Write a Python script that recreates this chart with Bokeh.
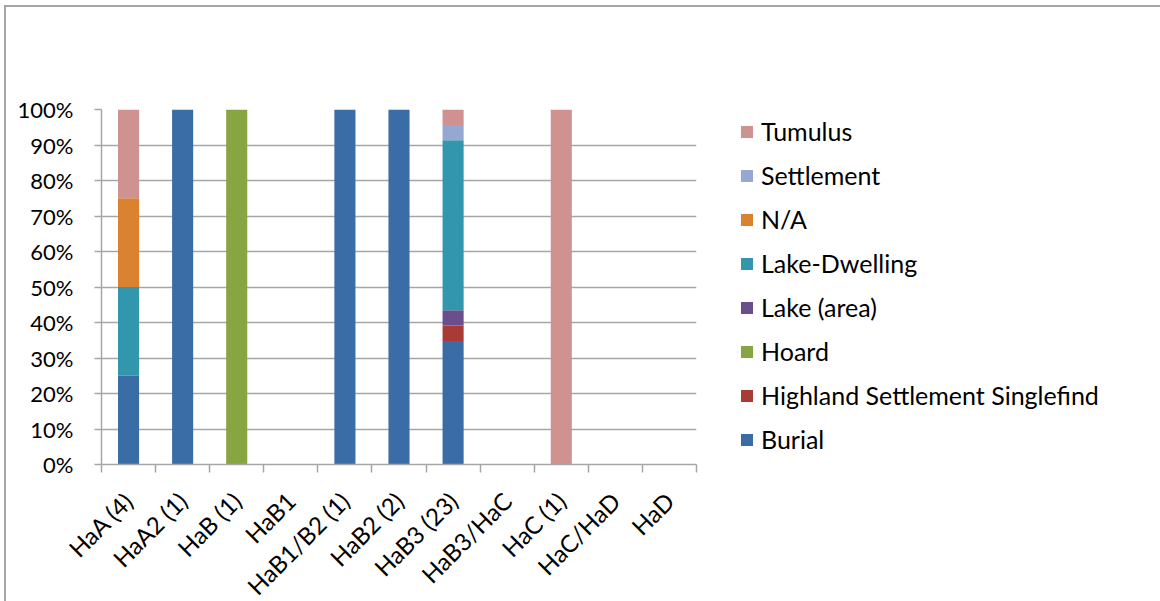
from bokeh.plotting import figure
from bokeh.models import Range1d, FixedTicker, NumeralTickFormatter, Legend, LegendItem, ColumnDataSource
from bokeh.embed import file_html
from bokeh.resources import INLINE
import math

categories = ["HaA (4)", "HaA2 (1)", "HaB (1)", "HaB1", "HaB1/B2 (1)", "HaB2 (2)",
              "HaB3 (23)", "HaB3/HaC", "HaC (1)", "HaC/HaD", "HaD"]
series_names = ["Burial", "Highland Settlement Singlefind", "Hoard", "Lake (area)",
                "Lake-Dwelling", "N/A", "Settlement", "Tumulus"]
burial =        [1, 1, 0, 0, 1, 2, 8, 0, 0, 0, 0]
highland =      [0, 0, 0, 0, 0, 0, 1, 0, 0, 0, 0]
hoard =         [0, 0, 1, 0, 0, 0, 0, 0, 0, 0, 0]
lake_area =     [0, 0, 0, 0, 0, 0, 1, 0, 0, 0, 0]
lake_dwelling = [1, 0, 0, 0, 0, 0, 11, 0, 0, 0, 0]
na =            [1, 0, 0, 0, 0, 0, 0, 0, 0, 0, 0]
settlement =    [0, 0, 0, 0, 0, 0, 1, 0, 0, 0, 0]
tumulus =       [1, 0, 0, 0, 0, 0, 1, 0, 1, 0, 0]
colors = ["#3A6DA6", "#A93B37", "#87A543", "#6B4E8C", "#3296AD", "#DB8230", "#95A8D2", "#D09291"]

series = [burial, highland, hoard, lake_area, lake_dwelling, na, settlement, tumulus]
totals = [sum(vals) for vals in zip(*series)]
keys = ["s%d" % i for i in range(len(series))]
data = {"x": [i + 0.5 for i in range(len(categories))]}
for k, vals in zip(keys, series):
    data[k] = [v / t if t else 0 for v, t in zip(vals, totals)]
source = ColumnDataSource(data)

FONT = "Lato"
GRID = "#A6A6A6"

p = figure(frame_width=595, frame_height=355, output_backend="svg", toolbar_location=None,
           x_range=Range1d(0, len(categories)), y_range=Range1d(0, 1),
           min_border_left=95, min_border_top=102, min_border_right=75,
           min_border_bottom=137,
           styles={"margin-left": "4px", "margin-top": "5px",
                   "border-left": "2px solid #A6A6A6", "border-top": "2px solid #A6A6A6"})
p.outline_line_color = None

renderers = p.vbar_stack(keys, x="x", width=0.39, source=source, color=colors, line_color=None)

# x axis
p.xaxis.ticker = FixedTicker(ticks=[i + 0.5 for i in range(len(categories))],
                             minor_ticks=list(range(len(categories) + 1)))
p.xaxis.major_label_overrides = {i + 0.5: c for i, c in enumerate(categories)}
p.xaxis.major_label_orientation = math.pi / 4
p.xaxis.major_tick_line_color = None
p.xaxis.major_tick_out = 0
p.xaxis.major_tick_in = 0
p.xaxis.minor_tick_out = 8
p.xaxis.minor_tick_in = 0
p.xaxis.minor_tick_line_color = GRID
p.xaxis.minor_tick_line_width = 1.5
p.xaxis.axis_line_color = GRID
p.xaxis.axis_line_width = 1.5
p.xaxis.major_label_standoff = 24
p.xaxis.major_label_text_font = FONT
p.xaxis.major_label_text_font_size = "24px"
p.xaxis.major_label_text_color = "#000000"

# y axis
p.yaxis.ticker = FixedTicker(ticks=[i / 10 for i in range(11)])
p.yaxis.formatter = NumeralTickFormatter(format="0%")
p.yaxis.minor_tick_line_color = None
p.yaxis.major_tick_out = 7
p.yaxis.major_tick_in = 0
p.yaxis.major_tick_line_color = GRID
p.yaxis.major_tick_line_width = 1.5
p.yaxis.axis_line_color = GRID
p.yaxis.axis_line_width = 1.5
p.yaxis.major_label_standoff = 21
p.yaxis.major_label_text_font = FONT
p.yaxis.major_label_text_font_size = "22px"
p.yaxis.major_label_text_color = "#000000"

p.xgrid.grid_line_color = None
p.ygrid.grid_line_color = GRID
p.ygrid.grid_line_width = 1.5

items = [LegendItem(label=n, renderers=[r]) for n, r in zip(series_names, renderers)]
legend = Legend(items=list(reversed(items)), location=(43, 10),
                glyph_width=15, glyph_height=15, label_height=24, spacing=14,
                label_standoff=7, padding=0, margin=0, border_line_color=None,
                background_fill_alpha=0, label_text_font=FONT,
                label_text_font_size="25px", label_text_color="#000000")
p.add_layout(legend, "right")

open("out.html", "w").write(file_html(p, INLINE))
